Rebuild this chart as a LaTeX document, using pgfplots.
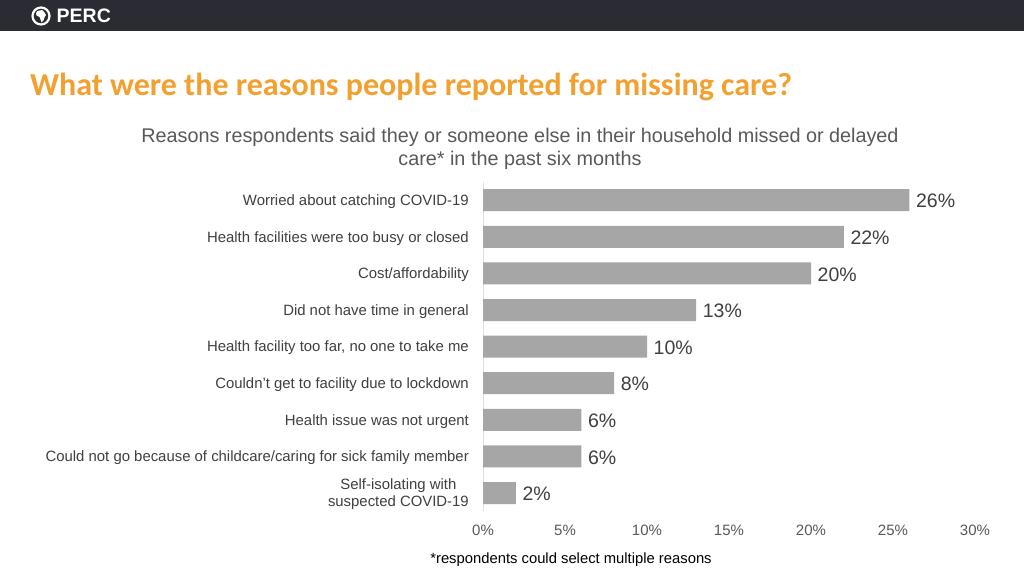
\documentclass[border=0pt]{standalone}
\usepackage{fontspec}
\setmainfont{Liberation Sans}
\newfontfamily\carlito{Carlito}
\usepackage{pgfplots}
\pgfplotsset{compat=1.18}
\definecolor{hdr}{HTML}{2B2B33}
\definecolor{ttl}{HTML}{F2A131}
\definecolor{barc}{HTML}{A6A6A6}
\definecolor{txt}{HTML}{404040}
\definecolor{sub}{HTML}{595959}
\begin{document}
\begin{tikzpicture}
\useasboundingbox (0pt,0pt) rectangle (1024pt,576pt);
\fill[white] (0pt,0pt) rectangle (1024pt,576pt);
\fill[hdr] (0pt,545pt) rectangle (1024pt,576pt);
\draw[white, line width=2.2pt] (41pt,560pt) circle (8.5pt);
\fill[white] (37.5pt,565pt) -- (42pt,566pt) -- (44.5pt,563.5pt) -- (46pt,561pt) -- (44.5pt,558.5pt) -- (43.5pt,555.5pt) -- (41.5pt,553.5pt) -- (40.5pt,556.5pt) -- (39.5pt,559pt) -- (36.5pt,560.5pt) -- (36pt,563pt) -- cycle;
\node[anchor=west, text=white, inner sep=0pt, font=\bfseries\fontsize{19.5}{19.5}\selectfont] at (56.5pt,560pt) {PERC};
\node[anchor=base west, inner sep=0pt, text=ttl, font=\carlito\bfseries\fontsize{32}{32}\selectfont] at (30pt,480pt) {What were the reasons people reported for missing care?};
\node[align=center, text=sub, font=\fontsize{19.8}{23}\selectfont] at (520pt,427pt) {Reasons respondents said they or someone else in their household missed or delayed\\care* in the past six months};
\begin{axis}[
  at={(483pt,64.7pt)}, anchor=south west, scale only axis,
  width=492pt, height=329.4pt,
  xmin=0, xmax=30, ymin=-0.5, ymax=8.5, y dir=reverse,
  xbar, bar width=22pt, bar shift=0pt,
  axis x line*=bottom, axis y line*=left,
  x axis line style={draw=none}, y axis line style={draw=gray!25},
  major tick length=0pt,
  xtick={0,5,...,30},
  xticklabel={\pgfmathprintnumber{\tick}\%},
  xticklabel style={font=\fontsize{15}{15}\selectfont, text=sub, inner sep=0pt, anchor=north, yshift=-13.5pt},
  ytick={0,...,8},
  yticklabels={Worried about catching COVID-19, Health facilities were too busy or closed, Cost/affordability, Did not have time in general, {Health facility too far, no one to take me}, Couldn't get to facility due to lockdown, Health issue was not urgent, Could not go because of childcare/caring for sick family member, {Self-isolating with\\suspected COVID-19}},
  yticklabel style={font=\fontsize{14.9}{17}\selectfont, text=txt, align=center, inner sep=0pt, anchor=east, xshift=-14pt, yshift=-1.5pt},
  /pgf/number format/assume math mode=true,
  nodes near coords={\pgfmathprintnumber{\pgfplotspointmeta}\%},
  nodes near coords style={font=\fontsize{19.5}{19.5}\selectfont, text=txt, anchor=west, inner sep=0pt, xshift=6.5pt, yshift=-1pt},
]
\addplot[fill=barc, draw=none] coordinates {(26,0) (22,1) (20,2) (13,3) (10,4) (8,5) (6,6) (6,7) (2,8)};
\end{axis}
\node[text=black, font=\fontsize{14.8}{14.8}\selectfont] at (571pt,16.5pt) {*respondents could select multiple reasons};
\end{tikzpicture}
\end{document}
